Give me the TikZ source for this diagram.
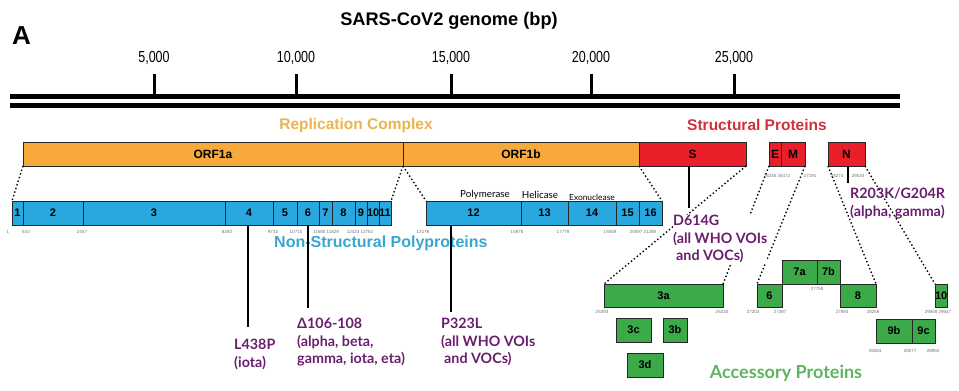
\documentclass[tikz,border=0pt]{standalone}
\usepackage{fontspec}
\setmainfont{Liberation Sans}
\newfontfamily\latofont{Lato}
\definecolor{orf}{HTML}{F7A93B}
\definecolor{sred}{HTML}{E9202A}
\definecolor{nspblue}{HTML}{29A8E0}
\definecolor{accgreen}{HTML}{3DAA4A}
\definecolor{reptext}{HTML}{EBB251}
\definecolor{structtext}{HTML}{D22F3C}
\definecolor{nsptext}{HTML}{3AA6CF}
\definecolor{acctext}{HTML}{5CB55F}
\definecolor{mutpurple}{HTML}{6A1E6E}
\definecolor{numgray}{HTML}{707070}
\tikzset{
 box/.style={draw=black!85, line width=0.9pt, inner sep=0pt, outer sep=0pt, anchor=north west, font=\fontsize{11}{12}\selectfont\bfseries},
 orfbox/.style={box, fill=orf, font=\fontsize{12}{13}\selectfont\bfseries},
 redbox/.style={box, fill=sred, font=\fontsize{12}{13}\selectfont\bfseries},
 nspbox/.style={box, fill=nspblue},
 accbox/.style={box, fill=accgreen},
 conn/.style={line width=1.4pt, dash pattern=on 1.4pt off 2.4pt},
 mutline/.style={line width=2pt},
 mut/.style={text=mutpurple, font=\latofont\fontsize{14.3}{17.5}\selectfont\bfseries, align=left, anchor=north west, inner sep=0pt},
 num/.style={text=numgray, font=\fontsize{4.5}{5}\selectfont, inner sep=0pt},
 sect/.style={font=\fontsize{15.5}{17}\selectfont\bfseries, inner sep=0pt},
 genome/.style={line width=5pt},
 gtick/.style={line width=3pt},
 ticklab/.style={font=\fontsize{12.5}{14}\selectfont, inner sep=0pt, anchor=base},
 enz/.style={font=\latofont\fontsize{9.8}{11}\selectfont, inner sep=0pt},
}
\begin{document}
\begin{tikzpicture}[x=1pt,y=-1pt]
\useasboundingbox (0,0) rectangle (959,391);
% title and panel letter
\node[font=\fontsize{18.2}{20}\selectfont\bfseries, anchor=base, inner sep=0pt] (title) at (449,25) {SARS-CoV2 genome (bp)};
\node[font=\fontsize{26}{28}\selectfont\bfseries, anchor=base west, inner sep=0pt] (panel) at (12,44) {A};
% genome ruler
\draw[genome] (10,96) -- (900,96);
\draw[genome] (10,105.5) -- (900,105.5);
\foreach \x/\t in {154/{5,000},296/{10,000},451/{15,000},591/{20,000},734/{25,000}}{
  \draw[gtick] (\x,74) -- (\x,96);
  \node[ticklab] at (\x,62) {\scalebox{1}[1.28]{\t}};
}
% section titles
\node[sect, text=reptext] (rep) at (356,125) {Replication Complex};
\node[sect, text=structtext] (struct) at (757,125) {Structural Proteins};
\node[sect, text=nsptext, anchor=west, font=\fontsize{16}{17}\selectfont\bfseries] (nsp) at (274,243) {Non-Structural Polyproteins};
\node[text=acctext, font=\latofont\fontsize{18}{20}\selectfont\bfseries, inner sep=0pt] (acc) at (786,373) {Accessory Proteins};
% main ORFs
\node[orfbox, minimum width=380pt, minimum height=24pt] (orf1a) at (23,142) {ORF1a};
\node[orfbox, minimum width=236pt, minimum height=24pt] (orf1b) at (403,142) {ORF1b};
\node[redbox, minimum width=107pt, minimum height=24pt] (S) at (639,142) {S};
\node[redbox, minimum width=12pt, minimum height=24pt] (E) at (769,142) {E};
\node[redbox, minimum width=24pt, minimum height=24pt] (M) at (781,142) {M};
\node[redbox, minimum width=37pt, minimum height=24pt] (N) at (828,142) {N};
% nsp boxes
\foreach \n/\a/\w in {1/12/11,2/23/60,3/83/142,4/225/48,5/273/24,6/297/22,7/319/13,8/332/23,9/355/12,10/367/12,11/379/12,12/426/95,13/521/47,14/568/48,15/616/23,16/639/23}{
  \node[nspbox, minimum width=\w pt, minimum height=24pt] (nsp\n) at (\a,201) {\n};
}
\node[enz] (pol) at (485,195) {Polymerase};
\node[enz] (hel) at (540,195) {Helicase};
\node[enz, font=\latofont\fontsize{8.4}{10}\selectfont] (exo) at (592,197) {Exonuclease};
% nsp numbers
\foreach \x/\t in {8/1,26/543,82/2457,227/8292,273/9732,296/10710,326/{11580 11829},360/{12423 12762},423/13176,517/15975,563/17778,610/19359,643/{20097 21288}}{
  \node[num] at (\x,232) {\t};
}
% accessory boxes
\node[accbox, minimum width=119pt, minimum height=23pt] (a3a) at (604,284) {3a};
\node[accbox, minimum width=35pt, minimum height=24pt] (a3c) at (616,318) {3c};
\node[accbox, minimum width=24pt, minimum height=24pt] (a3b) at (663,318) {3b};
\node[accbox, minimum width=36pt, minimum height=24pt] (a3d) at (627,353) {3d};
\node[accbox, minimum width=25pt, minimum height=23pt] (a6) at (757,284) {6};
\node[accbox, minimum width=35pt, minimum height=24pt] (a7a) at (782,260) {7a};
\node[accbox, minimum width=23pt, minimum height=24pt] (a7b) at (817,260) {7b};
\node[accbox, minimum width=36pt, minimum height=23pt] (a8) at (840,284) {8};
\node[accbox, minimum width=12pt, minimum height=23pt] (a10) at (935,284) {10};
\node[accbox, minimum width=36pt, minimum height=24pt] (a9b) at (876,319) {9b};
\node[accbox, minimum width=23pt, minimum height=24pt] (a9c) at (912,319) {9c};
% structural/accessory numbers
\foreach \x/\y/\t in {777/176/{26245 26472},810/176/27191,837/176/28274,858/176/29533,602/312/25393,722/312/26220,753/312/27202,780/312/27387,817/289/27759,842/312/27894,873/312/28259,938/312/{29558 29647},875/351/28284,910/351/28577,933/351/28955}{
  \node[num] at (\x,\y) {\t};
}
% dotted connectors
\draw[conn] (orf1a.south west) -- (nsp1.north west);
\draw[conn] (orf1a.south east) -- (nsp11.north east);
\draw[conn] (orf1b.south west) -- (nsp12.north west);
\draw[conn] (orf1b.south east) -- (nsp16.north east);
\draw[conn] (S.south east) -- (a3a.north west);
\draw[conn] (E.south west) -- (a3a.north east);
\draw[conn] (M.south east) -- (a6.north west);
\draw[conn] (N.south west) -- (a8.north east);
\draw[conn] (N.south east) -- (a10.north west);
% mutations
\coordinate (m4) at (248,327);
\coordinate (m6) at (308,308);
\coordinate (m12) at (451,312);
\coordinate (ms) at (689,208);
\coordinate (mn) at (848,183);
\draw[mutline] (m4 |- nsp4.south) -- (m4);
\draw[mutline] (m6 |- nsp6.south) -- (m6);
\draw[mutline] (m12 |- nsp12.south) -- (m12);
\draw[mutline] (ms |- S.south) -- (ms);
\draw[mutline] (mn |- N.south) -- (mn);
\node[mut] (l438) at (234,339) {L438P\\(iota)};
\node[mut] (d106) at (297,318) {Δ106-108\\(alpha, beta,\\gamma, iota, eta)};
\node[mut] (p323) at (441,318) {P323L\\(all WHO VOIs\\\hspace{3pt}and VOCs)};
\node[mut, fill=white] (d614) at (673,215) {D614G\\(all WHO VOIs\\\hspace{3pt}and VOCs)};
\node[mut] (r203) at (850,188) {R203K/G204R\\(alpha, gamma)};
\end{tikzpicture}
\end{document}
